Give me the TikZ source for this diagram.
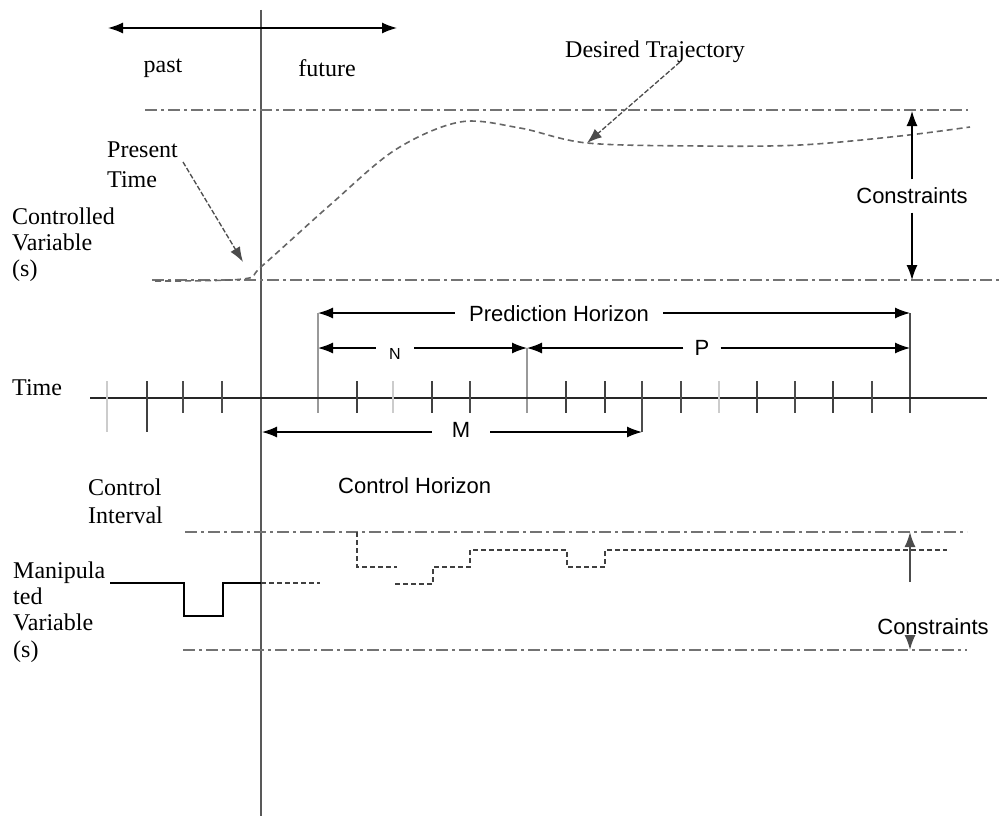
\documentclass[tikz,border=0pt]{standalone}
\usepackage{fontspec}
\setmainfont{Liberation Serif}
\setsansfont{Liberation Sans}
\usetikzlibrary{arrows.meta}

\begin{document}
\begin{tikzpicture}[x=1pt,y=-1pt,
  >={Latex[length=15pt,width=11pt]},
  lbl/.style={font=\fontsize{24}{26}\selectfont, inner sep=0pt, align=left},
  slbl/.style={font=\sffamily\fontsize{22}{24}\selectfont, inner sep=0pt},
  gaplbl/.style={slbl, minimum height=16pt},
  axis/.style={line width=1.4pt, black!85},
  tick/.style={line width=1.4pt, black!75},
  thicktick/.style={line width=2.4pt, black!70},
  faint/.style={line width=1.2pt, black!20},
  guide/.style={line width=1.4pt, black!40},
  now/.style={line width=2.8pt, black!65},
  limit/.style={line width=2pt, black!55, dash pattern=on 12pt off 4pt on 3pt off 4pt},
  traj/.style={line width=1.6pt, black!60, dash pattern=on 6pt off 4pt},
  dim/.style={line width=1.3pt, black, ->},
  ptr/.style={line width=1.3pt, black!70, dash pattern=on 5pt off 2pt, ->},
  mv/.style={line width=1.6pt, black},
  mvplan/.style={line width=1.4pt, black!75, dash pattern=on 5pt off 3pt},
]
\useasboundingbox (0,0) rectangle (1000,816);

% present-time line
\coordinate (nowTop) at (261,10);
\coordinate (nowBot) at (261,816);
\draw[now] (nowTop) -- (nowBot);

% past / future
\coordinate (pastEnd) at (108,28);
\coordinate (futEnd) at (397,28);
\draw[line width=1.4pt, <->] (pastEnd) -- (futEnd);
\node[lbl] (past) at (163,68) {past};
\node[lbl] (future) at (327,68) {future};

% controlled variable: limits and desired trajectory
\coordinate (cvHiL) at (145,110); \coordinate (cvHiR) at (968,110);
\coordinate (cvLoL) at (152,280); \coordinate (cvLoR) at (1000,280);
\draw[limit] (cvHiL) -- (cvHiR);
\draw[limit] (cvLoL) -- (cvLoR);
\draw[traj] plot[smooth, tension=0.55] coordinates {(155,281) (243,279) (262,266) (330,205) (395,150) (460,122) (520,128) (587,143) (700,146) (800,145) (900,136) (970,127)};

\node[lbl, anchor=west, font=\fontsize{24}{30}\selectfont] (present) at (107,165) {Present\\Time};
\coordinate (ptTail) at (183,162);
\coordinate (ptTip) at (243,262);
\draw[ptr] (ptTail) -- (ptTip);

\node[lbl, anchor=west] (desired) at (565,52) {Desired Trajectory};
\coordinate (dtTail) at (680,62);
\coordinate (dtTip) at (587,143);
\draw[ptr] (dtTail) -- (dtTip);

\node[lbl, anchor=west] (cv) at (12,245) {Controlled\\Variable\\(s)};

\node[slbl, minimum height=33pt] (cons1) at (912,196) {Constraints};
\coordinate (c1Hi) at (912,111);
\coordinate (c1Lo) at (912,280);
\draw[dim] (cons1.north) -- (c1Hi);
\draw[dim] (cons1.south) -- (c1Lo);

% horizons
\coordinate (phL) at (318,313);
\coordinate (phR) at (910,313);
\node[gaplbl, minimum width=208pt] (ph) at (559,314) {Prediction Horizon};
\draw[dim] (ph.west |- phL) -- (phL);
\draw[dim] (ph.east |- phR) -- (phR);

\coordinate (nL) at (318,348);
\coordinate (nR) at (527,348);
\coordinate (pR) at (910,348);
\node[gaplbl, minimum width=38pt, font=\sffamily\fontsize{16}{18}\selectfont] (nlab) at (395,354) {N};
\draw[dim] (nlab.west |- nL) -- (nL);
\draw[dim] (nlab.east |- nR) -- (nR);
\node[gaplbl, minimum width=37pt] (plab) at (702,348) {P};
\draw[dim] (plab.west |- nR) -- (nR);
\draw[dim] (plab.east |- pR) -- (pR);

\coordinate (ax0) at (318,413);
\coordinate (axN) at (527,413);
\coordinate (axP) at (910,413);
\draw[guide] (phL) -- (ax0);
\draw[guide] (nR) -- (axN);
\draw[thicktick] (phR) -- (axP);

% time axis
\coordinate (tL) at (90,398);
\coordinate (tR) at (987,398);
\draw[axis] (tL) -- (tR);
\node[lbl, anchor=west] (time) at (12,388) {Time};

\draw[faint] (107,381) -- (107,432);
\draw[tick] (147,381) -- (147,432);
\foreach \x in {357,432,566,605,757,833}
  \draw[tick] (\x,381) -- (\x,413);
\foreach \x in {183,222,470,681,795,872}
  \draw[thicktick] (\x,381) -- (\x,413);
\foreach \x in {393,719}
  \draw[faint] (\x,381) -- (\x,413);

\coordinate (mL) at (262,432);
\coordinate (mR) at (642,432);
\coordinate (mTop) at (642,381);
\draw[thicktick] (mTop) -- (mR);
\node[gaplbl, minimum width=58pt] (mlab) at (461,430) {M};
\draw[dim] (mlab.west |- mL) -- (mL);
\draw[dim] (mlab.east |- mR) -- (mR);

% manipulated variable
\node[lbl, anchor=west, font=\fontsize{24}{28}\selectfont] (ci) at (88,501) {Control\\Interval};
\node[slbl, anchor=west] (ch) at (338,486) {Control Horizon};

\coordinate (mvHiL) at (185,532); \coordinate (mvHiR) at (967,532);
\coordinate (mvLoL) at (183,650); \coordinate (mvLoR) at (967,650);
\draw[limit] (mvHiL) -- (mvHiR);
\draw[limit] (mvLoL) -- (mvLoR);

\node[lbl, anchor=west, font=\fontsize{24}{26.3}\selectfont] (mvar) at (13,612) {Manipula\\ted\\Variable\\(s)};

\draw[mv] (110,583) -- (184,583) -- (184,616) -- (223,616) -- (223,583) -- (261,583);
\draw[mvplan] (261,583) -- (320,583);
\draw[mvplan] (357,532) -- (357,567) -- (397,567);
\draw[mvplan] (395,584) -- (433,584) -- (433,567) -- (470,567) -- (470,550)
  -- (567,550) -- (567,567) -- (605,567) -- (605,550) -- (947,550);

\node[slbl] (cons2) at (933,627) {Constraints};
\coordinate (c2Base) at (910,582);
\coordinate (c2Hi) at (910,532);
\coordinate (c2Mid) at (910,636);
\coordinate (c2Lo) at (910,650);
\draw[line width=1.6pt, black!70, ->] (c2Base) -- (c2Hi);
\draw[line width=1.6pt, black!70, ->] (c2Mid) -- (c2Lo);

\end{tikzpicture}
\end{document}
